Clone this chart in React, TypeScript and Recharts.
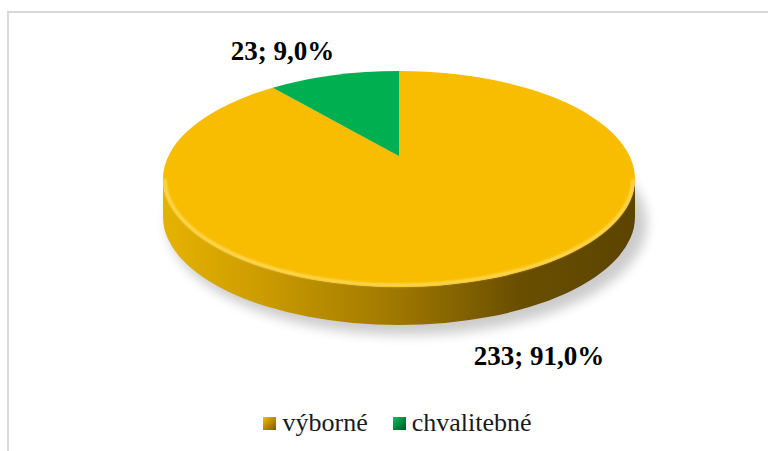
import { PieChart, Pie, Cell, Legend } from "recharts";

// ---------- data ----------

const CATEGORIES = ["výborné", "chvalitebné"];
const COUNTS = [233, 23];
const TOP_COLORS = ["#F9BD00", "#00AF50"];
const WALL_COLORS = [
  ["#E6B200", "#D09F00", "#9E7700", "#6A4F00", "#5C4400"],
  ["#00A04A", "#008A3F", "#006E32", "#005526", "#004A21"],
];

const data = CATEGORIES.map((name, i) => ({ name, value: COUNTS[i] }));

// ---------- 3D look ----------

const TILT = 0.458; // ry / rx of the top face
const DEPTH = 38; // height of the side wall
const APEX_SHIFT = 23; // perspective: the tip of the slices sits above the ellipse centre
const RAD = Math.PI / 180;
const SERIF = '"Liberation Serif", "Times New Roman", serif';

function pt(cx: number, cy: number, rx: number, ry: number, a: number) {
  return [cx + rx * Math.cos(a * RAD), cy - ry * Math.sin(a * RAD)];
}

function Slice3D(props: any) {
  const { cx, cy, outerRadius, startAngle, endAngle, fill } = props;
  const name = props.payload?.name ?? props.name;
  const idx = Math.max(0, CATEGORIES.indexOf(name));
  const rx = outerRadius;
  const ry = outerRadius * TILT;

  // parts of the slice that face the viewer (lower half of the ellipse)
  const lo = Math.min(startAngle, endAngle);
  const hi = Math.max(startAngle, endAngle);
  const walls: number[][] = [];
  for (const base of [-540, -180, 180]) {
    const a = Math.max(lo, base);
    const b = Math.min(hi, base + 180);
    if (b > a) walls.push([a, b]);
  }

  const [sx, sy] = pt(cx, cy, rx, ry, startAngle);
  const [ex, ey] = pt(cx, cy, rx, ry, endAngle);
  const large = Math.abs(endAngle - startAngle) > 180 ? 1 : 0;
  const sweep = startAngle > endAngle ? 1 : 0;
  const top = `M${cx},${cy - APEX_SHIFT} L${sx},${sy} A${rx},${ry} 0 ${large} ${sweep} ${ex},${ey} Z`;

  const gid = `wall-${idx}`;
  const stops = WALL_COLORS[idx];

  return (
    <g>
      <defs>
        <linearGradient id={gid} gradientUnits="userSpaceOnUse" x1={cx - rx} x2={cx + rx} y1={0} y2={0}>
          <stop offset="0%" stopColor={stops[0]} />
          <stop offset="18%" stopColor={stops[1]} />
          <stop offset="50%" stopColor={stops[2]} />
          <stop offset="75%" stopColor={stops[3]} />
          <stop offset="100%" stopColor={stops[4]} />
        </linearGradient>
        <filter id={`shadow-${idx}`} x="-20%" y="-50%" width="140%" height="200%">
          <feGaussianBlur stdDeviation="6" />
        </filter>
        <filter id={`glow-${idx}`} x="-10%" y="-50%" width="120%" height="200%">
          <feGaussianBlur stdDeviation="1.2" />
        </filter>
      </defs>
      {walls.length > 0 && (
        <ellipse
          cx={cx + 8}
          cy={cy + DEPTH + 6}
          rx={rx + 4}
          ry={ry + 4}
          fill="#000"
          opacity={0.2}
          filter={`url(#shadow-${idx})`}
        />
      )}
      {walls.map(([a, b]) => {
        const [ax, ay] = pt(cx, cy, rx, ry, a);
        const [bx, by] = pt(cx, cy, rx, ry, b);
        const d = `M${ax},${ay} A${rx},${ry} 0 0 0 ${bx},${by} L${bx},${by + DEPTH} A${rx},${ry} 0 0 1 ${ax},${ay + DEPTH} Z`;
        return <path key={`w${a}`} d={d} fill={`url(#${gid})`} />;
      })}
      <path d={top} fill={fill} stroke="none" />
      {walls.map(([a, b]) => {
        const [ax, ay] = pt(cx, cy, rx - 2, ry - 2, a);
        const [bx, by] = pt(cx, cy, rx - 2, ry - 2, b);
        return (
          <path
            key={`r${a}`}
            d={`M${ax},${ay} A${rx - 2},${ry - 2} 0 0 0 ${bx},${by}`}
            fill="none"
            stroke="#FFE27A"
            strokeWidth={3}
            opacity={0.75}
            filter={`url(#glow-${idx})`}
          />
        );
      })}
    </g>
  );
}

// ---------- labels ----------

function renderLabel(props: any) {
  const { cx, cy, midAngle, outerRadius, value, percent } = props;
  const [px, py] = pt(cx, cy, outerRadius, outerRadius * TILT, midAngle);
  const right = Math.cos(midAngle * RAD) >= 0;
  const up = Math.sin(midAngle * RAD) > 0;
  const pct = ((percent ?? 0) * 100).toFixed(1).replace(".", ",");
  return (
    <text
      x={right ? px + 9 : px + 1}
      y={up ? py - 24 : py + DEPTH + 35}
      textAnchor={right ? "start" : "end"}
      dominantBaseline="central"
      fill="#000"
      fontFamily={SERIF}
      fontWeight="bold"
      fontSize={27}
    >
      {`${value}; ${pct}%`}
    </text>
  );
}

// ---------- legend ----------

const MARKER_BG = [
  "linear-gradient(135deg, #F2C200 0%, #B88C00 50%, #7A5C00 100%)",
  "linear-gradient(135deg, #12C060 0%, #008A3F 50%, #005526 100%)",
];

function LegendContent() {
  return (
    <div style={{ display: "flex", justifyContent: "center", alignItems: "center", paddingLeft: 27 }}>
      {CATEGORIES.map((name, i) => (
        <div key={name} style={{ display: "flex", alignItems: "center", marginLeft: i ? 25 : 0 }}>
          <span
            style={{
              display: "inline-block",
              width: 13,
              height: 13,
              marginRight: 6,
              background: MARKER_BG[i],
            }}
          />
          <span style={{ fontFamily: SERIF, fontSize: 26, color: "#1a1a1a", lineHeight: "30px" }}>{name}</span>
        </div>
      ))}
    </div>
  );
}

export default function App() {
  return (
    <div
      style={{
        position: "absolute",
        left: 0,
        top: 0,
        width: 768,
        height: 451,
        background: "#fff",
        overflow: "hidden",
        fontFamily: SERIF,
      }}
    >
      <div
        style={{
          position: "absolute",
          left: 7,
          top: 11,
          width: 770,
          height: 450,
          borderLeft: "2px solid #D9D9D9",
          borderTop: "2px solid #D9D9D9",
        }}
      />
      <PieChart width={768} height={451} style={{ position: "absolute", left: 0, top: 0 }}>
        <Pie
          data={data}
          dataKey="value"
          nameKey="name"
          cx={394}
          cy={174}
          innerRadius={0}
          outerRadius={236}
          startAngle={90}
          endAngle={-270}
          stroke="none"
          shape={Slice3D}
          activeShape={Slice3D}
          inactiveShape={Slice3D}
          label={renderLabel}
          labelLine={false}
          isAnimationActive={false}
        >
          {data.map((d, i) => (
            <Cell key={d.name} fill={TOP_COLORS[i]} />
          ))}
        </Pie>
        <Legend
          content={<LegendContent />}
          wrapperStyle={{ position: "absolute", top: 408, left: 0, width: 768, fontFamily: SERIF }}
        />
      </PieChart>
    </div>
  );
}
